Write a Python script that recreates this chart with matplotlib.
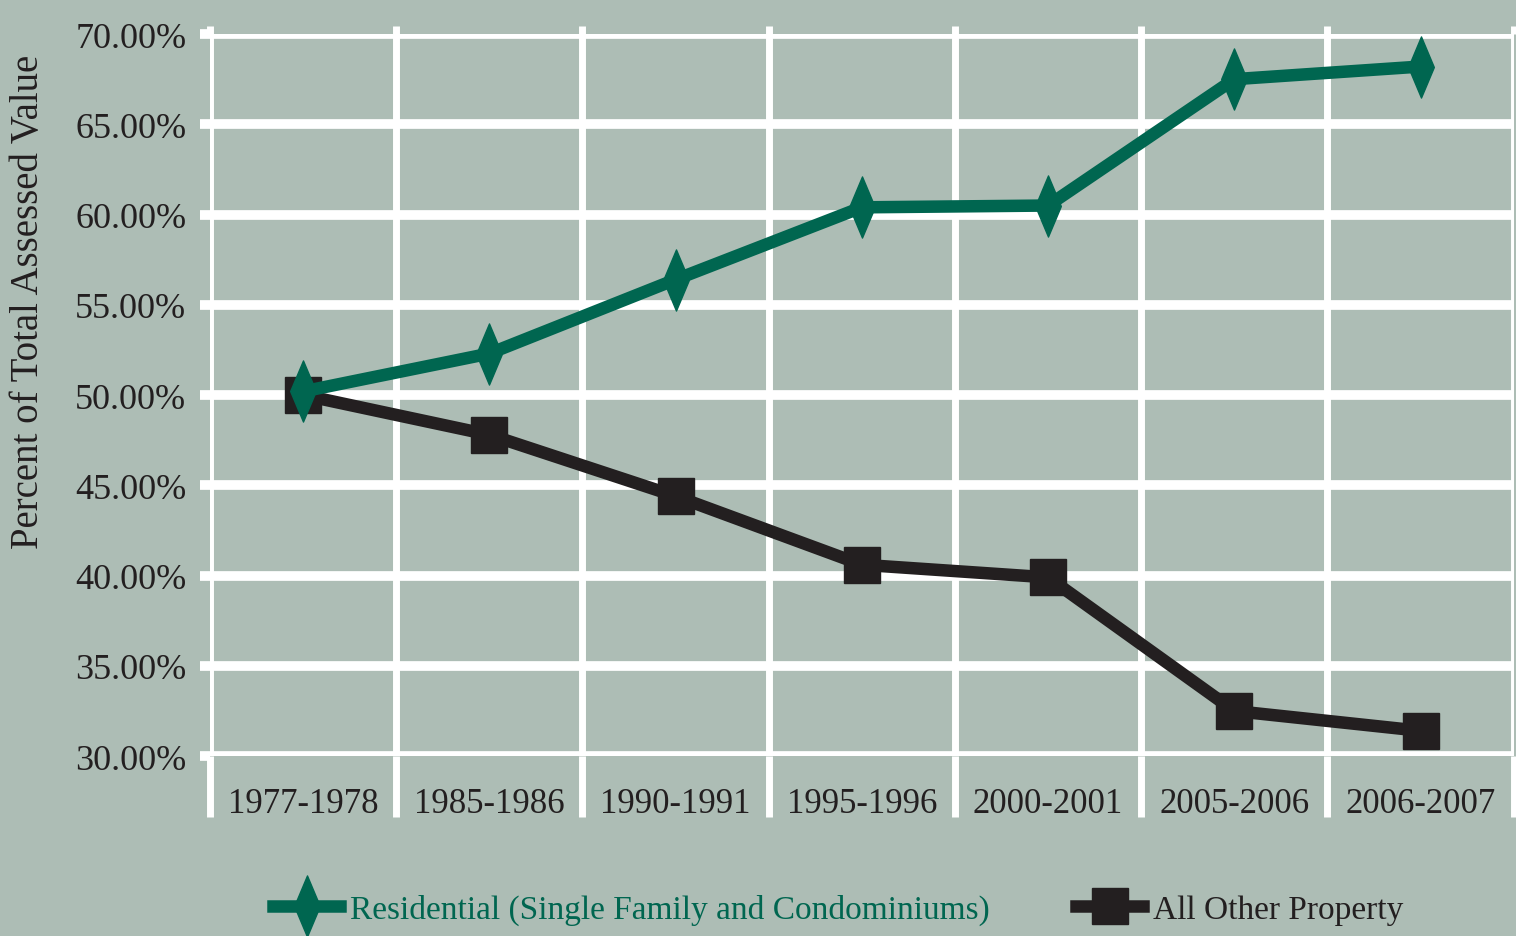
import matplotlib.pyplot as plt
from matplotlib.path import Path
import numpy as np

# data
years = ["1977-1978", "1985-1986", "1990-1991", "1995-1996",
         "2000-2001", "2005-2006", "2006-2007"]
residential = [50.2, 52.3, 56.4, 60.4, 60.5, 67.5, 68.2]
other = [50.0, 47.8, 44.4, 40.6, 39.9, 32.5, 31.4]
yticks = [30, 35, 40, 45, 50, 55, 60, 65, 70]

bg = "#adbdb5"
green = "#006650"
dark = "#231f20"
serif = ["Liberation Serif", "DejaVu Serif"]

plt.rcParams["font.family"] = serif

# tall thin diamond like the original marker
diamond = Path([(0, 1), (0.42, 0), (0, -1), (-0.42, 0), (0, 1)],
               [Path.MOVETO, Path.LINETO, Path.LINETO, Path.LINETO, Path.CLOSEPOLY])

fig = plt.figure(figsize=(15.16, 9.37), dpi=100, facecolor=bg)
ax = fig.add_axes([0.1385, 0.192, 0.86, 0.7706], facecolor=bg)

x = np.arange(len(years))
ax.plot(x, other, color=dark, lw=9, marker="s", markersize=26,
        label="All Other Property", zorder=3)
ax.plot(x, residential, color=green, lw=9, marker=diamond, markersize=44,
        label="Residential (Single Family and Condominiums)", zorder=4)

ax.set_xlim(-0.5, len(years) - 0.5)
ax.set_ylim(30, 70)

# horizontal white grid at the major y ticks
ax.set_yticks(yticks)
ax.set_yticklabels([f"{v:.2f}%" for v in yticks], fontsize=26, color=dark)
ax.grid(axis="y", color="white", lw=7, zorder=1)
ax.tick_params(axis="y", direction="out", length=7, width=7, color="white", pad=10)

# vertical white separators between categories, running below the axis
bounds = np.arange(-0.5, len(years))
ax.set_xticks(x)
ax.set_xticklabels(years, fontsize=25, color=dark)
ax.set_xticks(bounds, minor=True)
ax.grid(axis="x", which="minor", color="white", lw=5, zorder=1)
ax.grid(axis="x", which="major", visible=False)
ax.tick_params(axis="x", which="major", length=0, pad=22)
ax.tick_params(axis="x", which="minor", direction="out", length=44, width=5,
               color="white")
ax.set_axisbelow(True)

# short stubs above the top gridline
top = ax.secondary_xaxis("top")
top.set_xticks(bounds)
top.set_xticklabels([])
top.tick_params(direction="out", length=6, width=5, color="white")
top.spines["top"].set_visible(False)

for s in ax.spines.values():
    s.set_visible(False)

fig.text(0.019, 0.678, "Percent of Total Assessed Value", rotation=90,
         ha="center", va="center", fontsize=28, color=dark)

handles, labels = ax.get_legend_handles_labels()
leg = fig.legend(handles[::-1], labels[::-1], loc="center", ncol=2,
                 bbox_to_anchor=(0.553, 0.028), frameon=False, fontsize=24,
                 handlelength=2.0, handletextpad=0.3, columnspacing=2.6)
leg.get_texts()[0].set_color(green)
leg.get_texts()[1].set_color(dark)

fig.savefig("out.png", dpi=100, facecolor=bg)
